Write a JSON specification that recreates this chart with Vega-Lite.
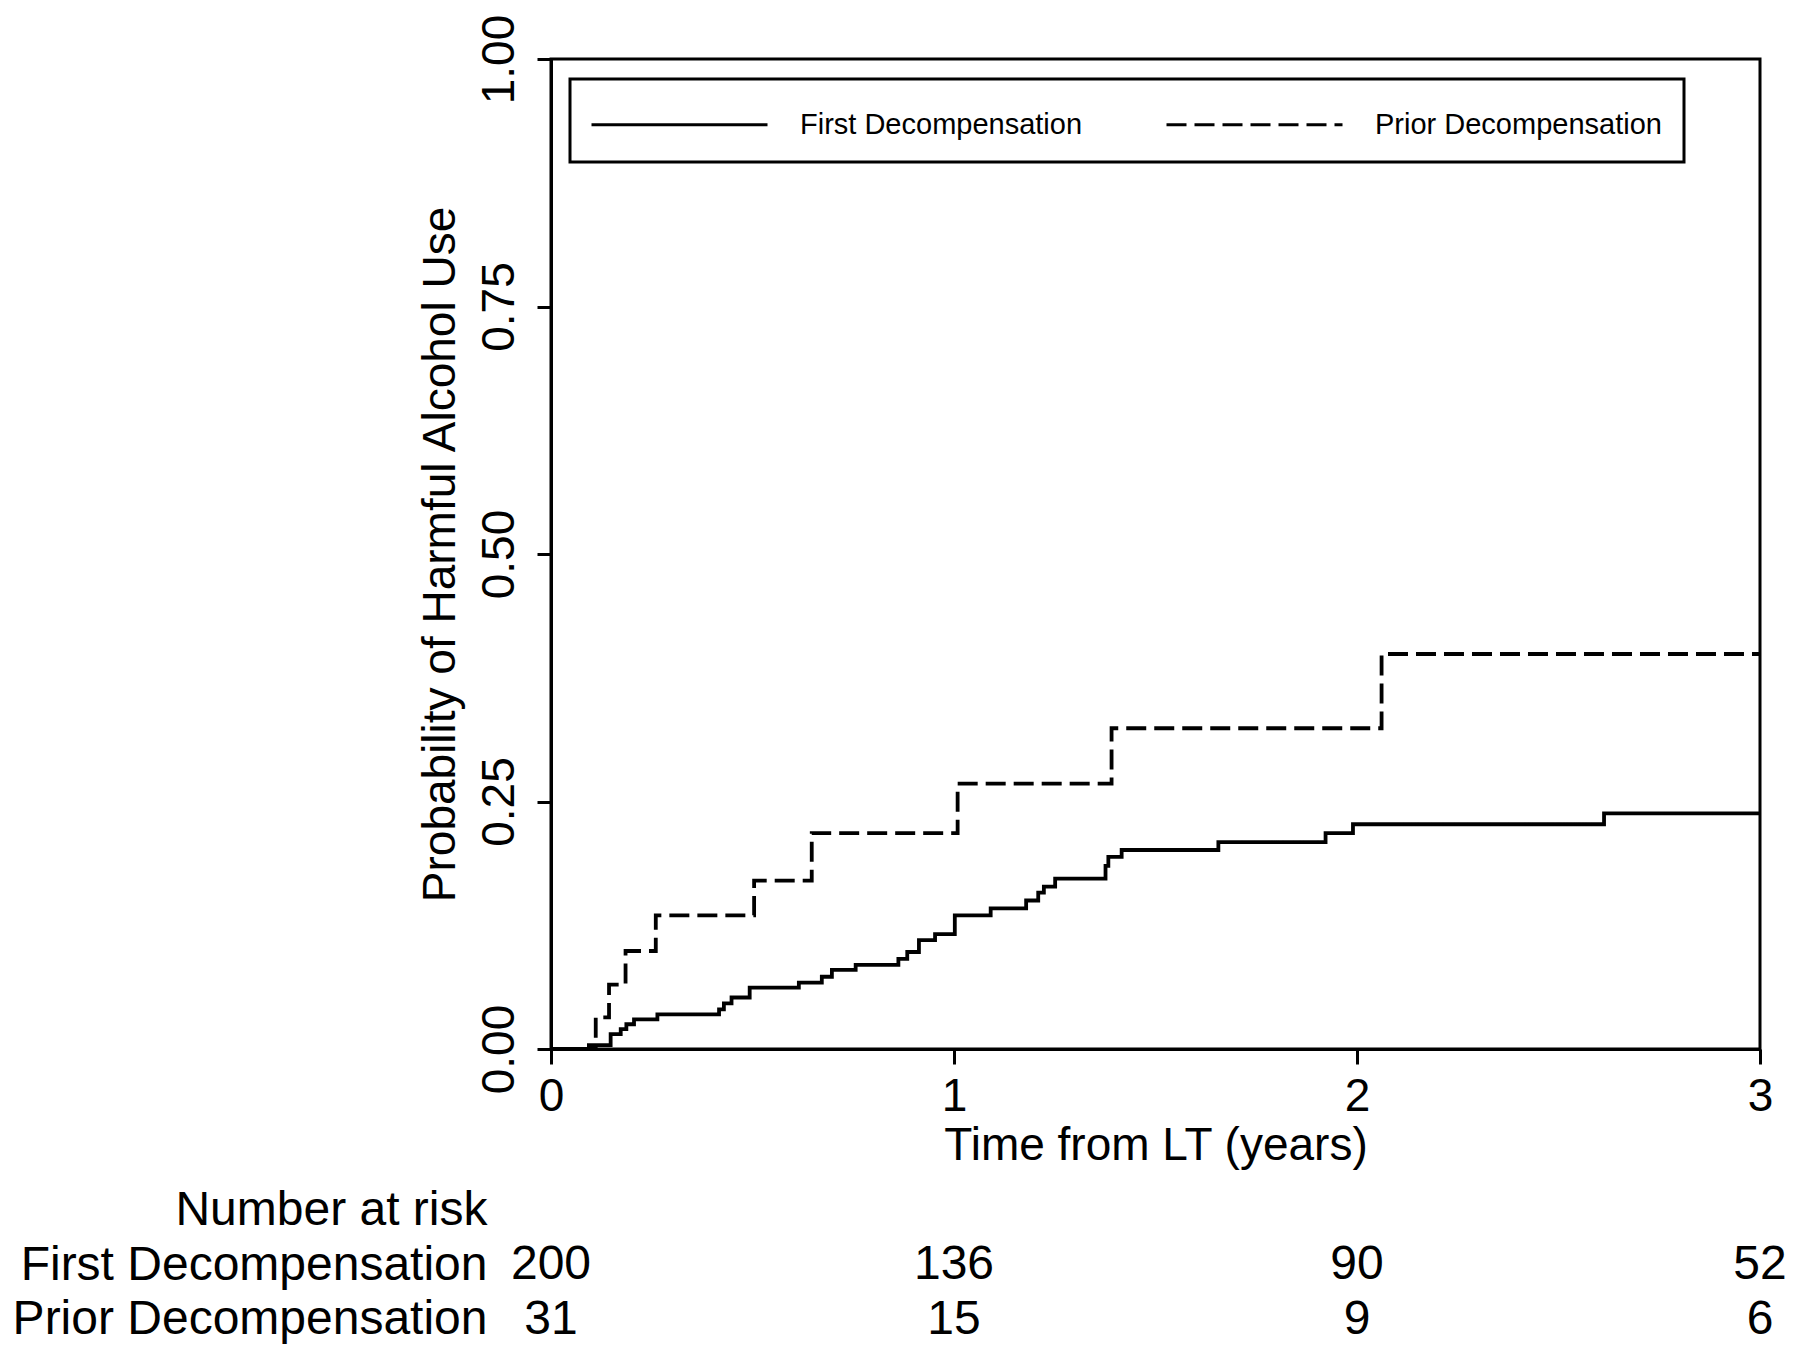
{
  "$schema": "https://vega.github.io/schema/vega-lite/v6.json",
  "padding": {"left": 12, "top": 12, "right": 5, "bottom": 5},
  "background": "white",
  "bounds": "flush",
  "spacing": 134,
  "resolve": {"scale": {"x": "independent", "y": "independent"}},
  "config": {
    "font": "Liberation Sans",
    "view": {"stroke": "black", "strokeWidth": 3},
    "legend": {"strokeWidth": 3},
    "axis": {"domainColor": "black", "tickColor": "black", "labelColor": "black", "titleColor": "black", "grid": false, "labelFont": "Liberation Sans", "titleFont": "Liberation Sans", "titleFontWeight": "normal", "domainWidth": 3, "tickWidth": 3, "labelFlush": false}
  },
  "vconcat": [
    {
      "width": 1209,
      "height": 990,
      "data": {"values": [
        {"group": "First Decompensation", "t": 0, "p": 0},
        {"group": "First Decompensation", "t": 0.094, "p": 0.004},
        {"group": "First Decompensation", "t": 0.148, "p": 0.015},
        {"group": "First Decompensation", "t": 0.173, "p": 0.020},
        {"group": "First Decompensation", "t": 0.187, "p": 0.025},
        {"group": "First Decompensation", "t": 0.206, "p": 0.030},
        {"group": "First Decompensation", "t": 0.264, "p": 0.035},
        {"group": "First Decompensation", "t": 0.417, "p": 0.040},
        {"group": "First Decompensation", "t": 0.429, "p": 0.046},
        {"group": "First Decompensation", "t": 0.448, "p": 0.052},
        {"group": "First Decompensation", "t": 0.493, "p": 0.062},
        {"group": "First Decompensation", "t": 0.615, "p": 0.067},
        {"group": "First Decompensation", "t": 0.672, "p": 0.073},
        {"group": "First Decompensation", "t": 0.697, "p": 0.080},
        {"group": "First Decompensation", "t": 0.756, "p": 0.085},
        {"group": "First Decompensation", "t": 0.862, "p": 0.091},
        {"group": "First Decompensation", "t": 0.884, "p": 0.098},
        {"group": "First Decompensation", "t": 0.913, "p": 0.110},
        {"group": "First Decompensation", "t": 0.953, "p": 0.116},
        {"group": "First Decompensation", "t": 1.002, "p": 0.135},
        {"group": "First Decompensation", "t": 1.091, "p": 0.142},
        {"group": "First Decompensation", "t": 1.179, "p": 0.150},
        {"group": "First Decompensation", "t": 1.209, "p": 0.158},
        {"group": "First Decompensation", "t": 1.223, "p": 0.164},
        {"group": "First Decompensation", "t": 1.251, "p": 0.172},
        {"group": "First Decompensation", "t": 1.376, "p": 0.185},
        {"group": "First Decompensation", "t": 1.383, "p": 0.194},
        {"group": "First Decompensation", "t": 1.416, "p": 0.201},
        {"group": "First Decompensation", "t": 1.656, "p": 0.209},
        {"group": "First Decompensation", "t": 1.922, "p": 0.218},
        {"group": "First Decompensation", "t": 1.990, "p": 0.227},
        {"group": "First Decompensation", "t": 2.613, "p": 0.238},
        {"group": "First Decompensation", "t": 3.0, "p": 0.238},
        {"group": "Prior Decompensation", "t": 0, "p": 0},
        {"group": "Prior Decompensation", "t": 0.111, "p": 0.032},
        {"group": "Prior Decompensation", "t": 0.144, "p": 0.065},
        {"group": "Prior Decompensation", "t": 0.185, "p": 0.099},
        {"group": "Prior Decompensation", "t": 0.260, "p": 0.135},
        {"group": "Prior Decompensation", "t": 0.504, "p": 0.170},
        {"group": "Prior Decompensation", "t": 0.647, "p": 0.218},
        {"group": "Prior Decompensation", "t": 1.009, "p": 0.268},
        {"group": "Prior Decompensation", "t": 1.391, "p": 0.324},
        {"group": "Prior Decompensation", "t": 2.061, "p": 0.399},
        {"group": "Prior Decompensation", "t": 3.0, "p": 0.399}
      ]},
      "mark": {"type": "line", "interpolate": "step-after", "color": "black", "strokeWidth": 3.8, "clip": true},
      "encoding": {
        "x": {"field": "t", "type": "quantitative", "scale": {"domain": [0, 3], "nice": false},
          "axis": {"values": [0, 1, 2, 3], "format": "d", "title": "Time from LT (years)", "labelFontSize": 46, "titleFontSize": 46, "tickSize": 15, "labelPadding": 10, "titlePadding": 4}},
        "y": {"field": "p", "type": "quantitative", "scale": {"domain": [0, 1], "nice": false},
          "axis": {"values": [0, 0.25, 0.5, 0.75, 1], "format": ".2f", "title": "Probability of Harmful Alcohol Use", "labelFontSize": 46, "titleFontSize": 46, "labelAngle": 270, "labelAlign": "center", "labelBaseline": "bottom", "tickSize": 14, "labelPadding": 14, "titlePadding": 12}},
        "strokeDash": {"field": "group", "type": "nominal",
          "scale": {"domain": ["First Decompensation", "Prior Decompensation"], "range": [[1, 0], [20, 8]]},
          "legend": {"title": null, "orient": "none", "legendX": 19, "legendY": 20, "direction": "horizontal", "columns": 2, "symbolType": "M-4,0H4", "symbolSize": 1936, "symbolOffset": 64, "symbolStrokeWidth": 3, "symbolStrokeColor": "black", "labelFontSize": 29, "labelFont": "Liberation Sans", "labelColor": "black", "labelLimit": 0, "labelOffset": 97, "columnPadding": 77, "padding": 22, "strokeColor": "black", "fillColor": "white"}}
      }
    },
    {
      "width": 1209,
      "height": 164,
      "view": {"stroke": null},
      "data": {"values": [
        {"group": "First Decompensation", "t": 0, "n": 200},
        {"group": "First Decompensation", "t": 1, "n": 136},
        {"group": "First Decompensation", "t": 2, "n": 90},
        {"group": "First Decompensation", "t": 3, "n": 52},
        {"group": "Prior Decompensation", "t": 0, "n": 31},
        {"group": "Prior Decompensation", "t": 1, "n": 15},
        {"group": "Prior Decompensation", "t": 2, "n": 9},
        {"group": "Prior Decompensation", "t": 3, "n": 6}
      ]},
      "mark": {"type": "text", "fontSize": 48, "font": "Liberation Sans", "color": "black"},
      "encoding": {
        "x": {"field": "t", "type": "quantitative", "scale": {"domain": [0, 3], "nice": false}, "axis": null},
        "y": {"field": "group", "type": "nominal", "scale": {"domain": ["Number at risk", "First Decompensation", "Prior Decompensation"], "paddingInner": 0, "paddingOuter": 0},
          "axis": {"title": null, "ticks": false, "domain": false, "labelFontSize": 48, "labelPadding": 64, "labelColor": "black", "labelLimit": 0}},
        "text": {"field": "n", "type": "quantitative"}
      }
    }
  ]
}
